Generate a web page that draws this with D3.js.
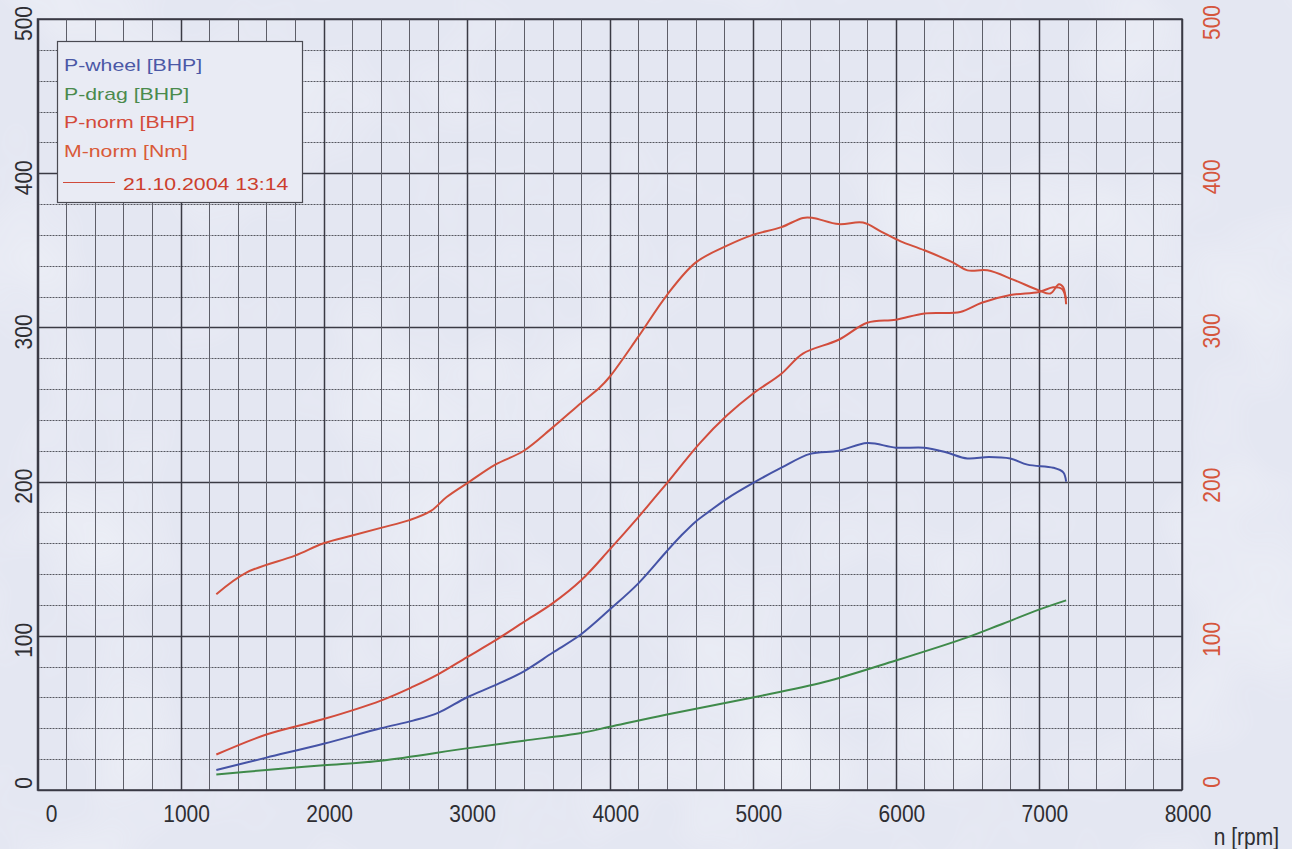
<!DOCTYPE html>
<html>
<head>
<meta charset="utf-8">
<script src="https://cdn.jsdelivr.net/npm/d3@7"></script>
<style>
  body { margin: 0; background: #e6e9f3; }
  svg { display: block; }
  text { font-family: "Liberation Sans", Arial, sans-serif; }
</style>
</head>
<body>
<svg id="drawing_region"></svg>
<script>
// axis ticks
const rpmTicks = [0, 1000, 2000, 3000, 4000, 5000, 6000, 7000, 8000];
const bhpTicks = [0, 100, 200, 300, 400, 500];
const nmTicks = [0, 100, 200, 300, 400, 500];

// P-wheel [BHP]
const wheelRpm = [1250, 1600, 2000, 2400, 2625, 2800, 3000, 3200, 3400, 3600, 3800, 4000, 4200, 4400, 4500, 4600, 4700, 4820, 5000, 5200, 5400, 5600, 5800, 6000, 6200, 6350, 6500, 6650, 6800, 6920, 7100, 7170, 7190];
const wheelBhp = [13, 21, 30, 40, 45, 50, 60, 68, 77, 89, 101, 117, 134, 155, 165, 174, 181, 189, 199, 209, 218, 220, 225, 222, 222, 219, 215, 216, 215, 211, 209, 206, 200];

// P-drag [BHP]
const dragRpm = [1250, 1600, 2000, 2400, 3000, 3400, 3800, 4000, 4400, 5000, 5500, 6000, 6500, 6725, 7000, 7190];
const dragBhp = [10, 13, 16, 19, 27, 32, 37, 41, 49, 60, 70, 84, 99, 107, 117, 123];

// P-norm [BHP]
const normRpm = [1250, 1600, 2000, 2400, 2625, 2800, 3000, 3200, 3400, 3600, 3800, 4000, 4200, 4300, 4400, 4630, 4820, 5000, 5200, 5350, 5600, 5800, 6000, 6200, 6450, 6600, 6800, 7000, 7100, 7160, 7190];
const normBhp = [23, 36, 46, 58, 67, 75, 86, 97, 109, 121, 136, 156, 177, 188, 199, 225, 243, 257, 270, 283, 292, 303, 305, 309, 310, 316, 321, 323, 326, 325, 318];

// M-norm [Nm]
const torqueRpm = [1250, 1460, 1800, 2000, 2200, 2400, 2600, 2750, 2860, 3020, 3200, 3400, 3600, 3800, 3930, 4000, 4200, 4400, 4600, 4820, 5000, 5200, 5350, 5420, 5600, 5770, 5900, 6030, 6200, 6400, 6500, 6640, 6820, 7000, 7080, 7140, 7170, 7190];
const torqueNm = [127, 141, 152, 160, 165, 170, 175, 181, 190, 200, 211, 220, 235, 251, 261, 268, 294, 321, 342, 353, 360, 365, 371, 371, 367, 368, 362, 356, 350, 342, 337, 337, 331, 324, 322, 328, 326, 315];

const legendLabels = ["P-wheel [BHP]", "P-drag [BHP]", "P-norm [BHP]", "M-norm [Nm]"];
const legendColors = ["#4b58a6", "#4a8a4c", "#d44a3a", "#d95a38"];
const runLabel = "21.10.2004 13:14";

const width = 1292, height = 849;
const plot = {left: 37.5, right: 1182, top: 19, bottom: 790};

const svg = d3.select('#drawing_region')
    .attr('width', width)
    .attr('height', height);

// faint paper texture
const defs = svg.append('defs');
const paper = defs.append('filter').attr('id', 'paper')
    .attr('x', 0).attr('y', 0).attr('width', '100%').attr('height', '100%');
paper.append('feTurbulence')
    .attr('type', 'fractalNoise').attr('baseFrequency', 0.006)
    .attr('numOctaves', 3).attr('seed', 7);
paper.append('feColorMatrix')
    .attr('type', 'matrix')
    .attr('values', '0 0 0 0 1  0 0 0 0 1  0 0 0 0 1  0 0 0 1.6 -0.75');

svg.append('rect')
    .attr('width', width).attr('height', height)
    .attr('fill', '#e4e7f2');
svg.append('rect')
    .attr('width', width).attr('height', height)
    .attr('filter', 'url(#paper)')
    .attr('opacity', 0.45);

const x = d3.scaleLinear().domain([0, 8000]).range([plot.left, plot.right]);
const yL = d3.scaleLinear().domain([0, 500]).range([plot.bottom, plot.top]);
const yR = d3.scaleLinear().domain([0, 500]).range([plot.bottom, plot.top]);

// grid
const grid = svg.append('g');
const vLines = d3.range(0, 8001, 200);
const hLines = d3.range(0, 501, 20);

grid.selectAll('.hl')
    .data(hLines)
    .join('line')
    .attr('x1', plot.left).attr('x2', plot.right)
    .attr('y1', d => Math.round(yL(d)) + 0.5).attr('y2', d => Math.round(yL(d)) + 0.5)
    .attr('stroke', d => d % 100 === 0 ? '#3a3a44' : '#55565f')
    .attr('stroke-width', d => d % 100 === 0 ? 1.4 : 1)
    .attr('stroke-dasharray', d => d % 100 === 0 ? null : '2,1');

grid.selectAll('.vl')
    .data(vLines)
    .join('line')
    .attr('y1', plot.top).attr('y2', plot.bottom)
    .attr('x1', d => Math.round(x(d)) + 0.5).attr('x2', d => Math.round(x(d)) + 0.5)
    .attr('stroke', d => d % 1000 === 0 ? '#3a3a44' : '#5d5e68')
    .attr('stroke-width', d => d % 1000 === 0 ? 1.5 : 1);

grid.append('rect')
    .attr('x', plot.left).attr('y', plot.top)
    .attr('width', plot.right - plot.left).attr('height', plot.bottom - plot.top)
    .attr('fill', 'none').attr('stroke', '#3a3a44').attr('stroke-width', 1.5);

// x tick labels
svg.append('g').selectAll('text')
    .data(rpmTicks)
    .join('text')
    .attr('transform', d => `translate(${x(d) + (d === 0 ? 14 : 6)},822) scale(1,1.12)`)
    .attr('text-anchor', 'middle')
    .attr('font-size', 21)
    .attr('fill', '#2e2e33')
    .text(d => d);

svg.append('text')
    .attr('transform', 'translate(1279,845) scale(1,1.12)')
    .attr('text-anchor', 'end')
    .attr('font-size', 21)
    .attr('fill', '#2e2e33')
    .text('n [rpm]');

// left y labels
svg.append('g').selectAll('text')
    .data(bhpTicks)
    .join('text')
    .attr('transform', d => `translate(32,${yL(d) - 13}) rotate(-90) scale(1,1.12)`)
    .attr('text-anchor', 'end')
    .attr('font-size', 21)
    .attr('fill', '#2e2e33')
    .text(d => d);

// right y labels
svg.append('g').selectAll('text')
    .data(nmTicks)
    .join('text')
    .attr('transform', d => `translate(1220,${yR(d) - 14}) rotate(-90) scale(1,1.12)`)
    .attr('text-anchor', 'end')
    .attr('font-size', 21)
    .attr('fill', '#d5553c')
    .text(d => d);

// curves
const line = (xs, ys, yScale) => d3.line()
    .x((d, i) => x(xs[i]))
    .y(d => yScale(d))
    .curve(d3.curveCatmullRom.alpha(0.5))(ys);

const series = [
    {xs: dragRpm, ys: dragBhp, scale: yL, color: '#3f8a4a'},
    {xs: wheelRpm, ys: wheelBhp, scale: yL, color: '#4553a6'},
    {xs: normRpm, ys: normBhp, scale: yL, color: '#d24c3c'},
    {xs: torqueRpm, ys: torqueNm, scale: yR, color: '#d2503c'}
];

svg.append('g').selectAll('path')
    .data(series)
    .join('path')
    .attr('d', s => line(s.xs, s.ys, s.scale))
    .attr('fill', 'none')
    .attr('stroke', s => s.color)
    .attr('stroke-width', 2)
    .attr('stroke-linejoin', 'round');

// legend
const legend = svg.append('g');
legend.append('rect')
    .attr('x', 57.5).attr('y', 41.5)
    .attr('width', 245).attr('height', 161)
    .attr('fill', '#e9ebf4')
    .attr('stroke', '#4a4a52')
    .attr('stroke-width', 1.2);

legend.selectAll('.lt')
    .data(legendLabels)
    .join('text')
    .attr('transform', (d, i) => `translate(64,${71 + i * 28.7}) scale(1.25,1)`)
    .attr('font-size', 17)
    .attr('fill', (d, i) => legendColors[i])
    .text(d => d);

legend.append('line')
    .attr('x1', 63).attr('x2', 115)
    .attr('y1', 182.5).attr('y2', 182.5)
    .attr('stroke', '#d04a3a').attr('stroke-width', 1.2);

legend.append('text')
    .attr('transform', 'translate(123,190) scale(1.25,1)')
    .attr('font-size', 17)
    .attr('fill', '#cc3e2c')
    .text(runLabel);
</script>
</body>
</html>
